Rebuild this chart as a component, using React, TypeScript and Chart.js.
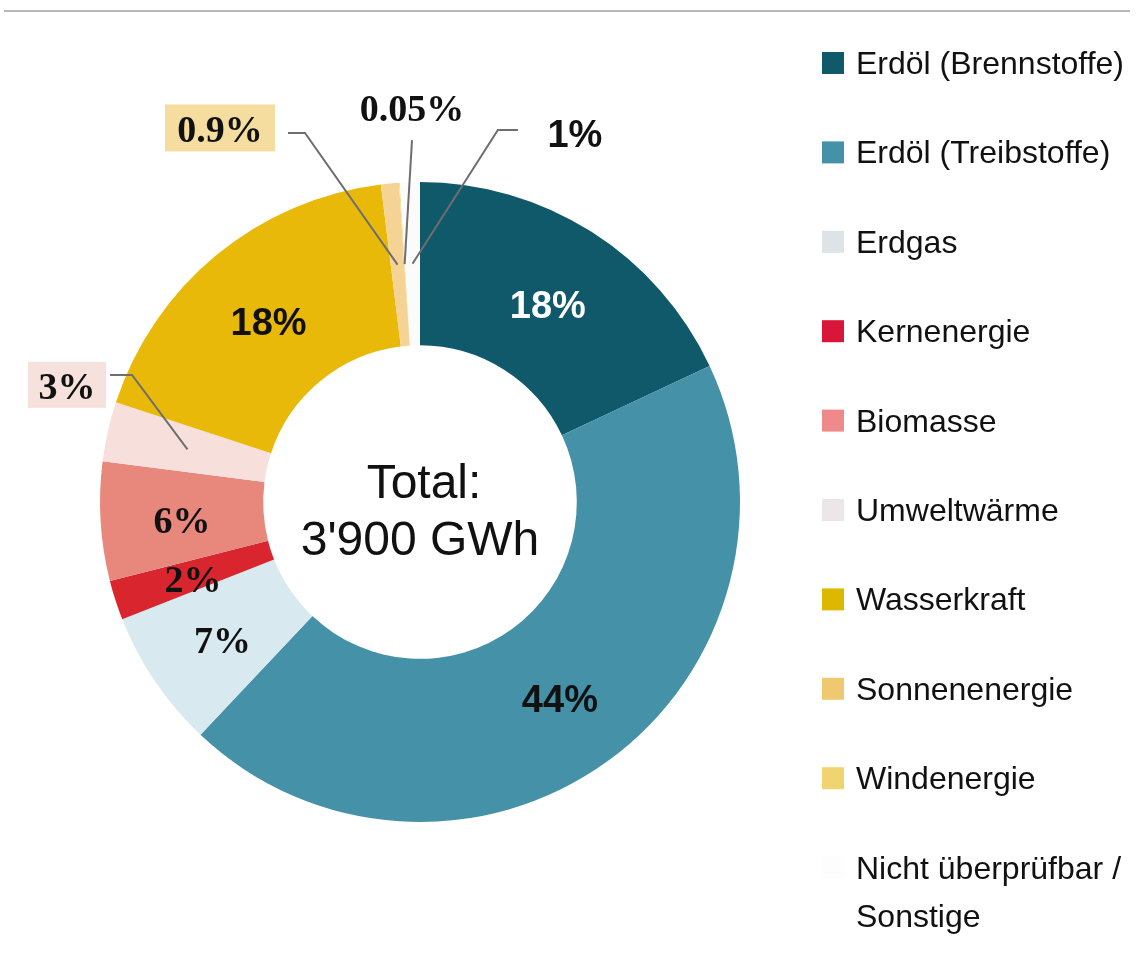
import { useEffect, useRef } from "react";
import { Chart, registerables } from "chart.js";

Chart.register(...registerables);

// ---- data ----
const categories: string[][] = [
  ["Erdöl (Brennstoffe)"],
  ["Erdöl (Treibstoffe)"],
  ["Erdgas"],
  ["Kernenergie"],
  ["Biomasse"],
  ["Umweltwärme"],
  ["Wasserkraft"],
  ["Sonnenenergie"],
  ["Windenergie"],
  ["Nicht überprüfbar /", "Sonstige"],
];
const shares: number[] = [18, 44, 7, 2, 6, 3, 18, 0.9, 0.05, 1];
const sliceColors: string[] = [
  "#10596b",
  "#4592a8",
  "#d8eaf0",
  "#d9262e",
  "#e8877b",
  "#f7e0dc",
  "#e9b90a",
  "#f5d395",
  "#f1df9c",
  "#fbfbfb",
];
const legendColors: string[] = [
  "#10596b",
  "#4592a8",
  "#dde3e6",
  "#d9163a",
  "#ee8a8a",
  "#ece6e8",
  "#dcb800",
  "#f0c870",
  "#f0d470",
  "#fdfdfd",
];
const centerLines: string[] = ["Total:", "3'900 GWh"];

// ---- label styling (not data) ----
const SANS = "'Liberation Sans', Arial, sans-serif";
const SERIF = "'Liberation Serif', 'Times New Roman', serif";

type LabelStyle = {
  family: string;
  color: string;
  outside?: {
    dx: number; // in units of outer radius from chart centre
    dy: number;
    box?: { color: string; w: number; h: number };
    leader: [number, number][]; // offsets from label centre before reaching the slice
  };
};

const labelStyles: LabelStyle[] = [
  { family: SANS, color: "#ffffff" },
  { family: SANS, color: "#111111" },
  { family: SERIF, color: "#111111" },
  { family: SERIF, color: "#111111" },
  { family: SERIF, color: "#111111" },
  {
    family: SERIF,
    color: "#111111",
    outside: { dx: -1.103, dy: -0.366, box: { color: "#f7e1dd", w: 78, h: 46 }, leader: [[43, -10], [65, -10]] },
  },
  { family: SANS, color: "#111111" },
  {
    family: SERIF,
    color: "#111111",
    outside: { dx: -0.625, dy: -1.169, box: { color: "#f4dd9e", w: 110, h: 47 }, leader: [[68, 5], [85, 5]] },
  },
  {
    family: SERIF,
    color: "#111111",
    outside: { dx: -0.025, dy: -1.234, leader: [[0, 33]] },
  },
  {
    family: SANS,
    color: "#111111",
    outside: { dx: 0.484, dy: -1.153, leader: [[-57, -3], [-77, -3]] },
  },
];

const fmt = (v: number) => `${v}%`;

const overlayPlugin = {
  id: "overlay",
  afterDatasetsDraw(chart: any) {
    const ctx: CanvasRenderingContext2D = chart.ctx;
    const meta = chart.getDatasetMeta(0);
    const arcs = meta.data as any[];
    if (!arcs.length) return;
    const cx = arcs[0].x;
    const cy = arcs[0].y;
    const R = arcs[0].outerRadius;

    ctx.save();

    // top rule
    ctx.strokeStyle = "#b8b8b8";
    ctx.lineWidth = 2;
    ctx.beginPath();
    ctx.moveTo(4, 11);
    ctx.lineTo(1130, 11);
    ctx.stroke();

    // centre text
    ctx.fillStyle = "#111111";
    ctx.font = `48px ${SANS}`;
    ctx.textAlign = "center";
    ctx.textBaseline = "alphabetic";
    ctx.fillText(centerLines[0], cx + 4, cy - 4);
    ctx.fillText(centerLines[1], cx, cy + 53);

    // value labels
    arcs.forEach((arc: any, i: number) => {
      const st = labelStyles[i];
      const text = fmt(shares[i]);
      const mid = arc.getCenterPoint();
      ctx.font = `bold 38px ${st.family}`;
      ctx.textAlign = "center";
      ctx.textBaseline = "alphabetic";
      if (!st.outside) {
        ctx.fillStyle = st.color;
        ctx.fillText(text, mid.x, mid.y + 17);
        return;
      }
      const o = st.outside;
      const lx = cx + o.dx * R;
      const ly = cy + o.dy * R;
      if (o.box) {
        ctx.fillStyle = o.box.color;
        ctx.fillRect(lx - o.box.w / 2, ly - o.box.h / 2, o.box.w, o.box.h);
      }
      ctx.strokeStyle = "#6e6e6e";
      ctx.lineWidth = 2;
      ctx.beginPath();
      o.leader.forEach(([ox, oy], k) => {
        if (k === 0) ctx.moveTo(lx + ox, ly + oy);
        else ctx.lineTo(lx + ox, ly + oy);
      });
      ctx.lineTo(mid.x, mid.y);
      ctx.stroke();
      ctx.fillStyle = st.color;
      ctx.fillText(text, lx, ly + 14);
    });

    // legend
    const legendX = 822;
    const textX = 856;
    const firstBase = 74;
    const step = 89.4;
    ctx.textAlign = "left";
    ctx.textBaseline = "alphabetic";
    ctx.font = `32px ${SANS}`;
    categories.forEach((lines, i) => {
      const base = firstBase + i * step;
      ctx.fillStyle = legendColors[i];
      ctx.fillRect(legendX, base - 22, 22, 22);
      ctx.fillStyle = "#111111";
      lines.forEach((ln, k) => {
        ctx.fillText(ln, textX, base + k * 48);
      });
    });

    ctx.restore();
  },
};

export default function App() {
  const ref = useRef<HTMLCanvasElement | null>(null);
  useEffect(() => {
    if (!ref.current) return;
    const chart = new Chart(ref.current, {
      type: "doughnut",
      data: {
        labels: categories.map((l) => l.join(" ")),
        datasets: [
          {
            data: shares,
            backgroundColor: sliceColors,
            borderWidth: 0,
            hoverOffset: 0,
          },
        ],
      },
      options: {
        responsive: false,
        animation: false,
        cutout: "49%",
        layout: { padding: { left: 100, right: 400, top: 182, bottom: 132 } },
        plugins: {
          legend: { display: false },
          tooltip: { enabled: false },
          title: { display: false },
        },
      },
      plugins: [overlayPlugin],
    });
    return () => chart.destroy();
  }, []);
  return (
    <div style={{ position: "absolute", left: 0, top: 0, width: 1140, height: 954, background: "#ffffff" }}>
      <canvas ref={ref} width={1140} height={954} />
    </div>
  );
}
